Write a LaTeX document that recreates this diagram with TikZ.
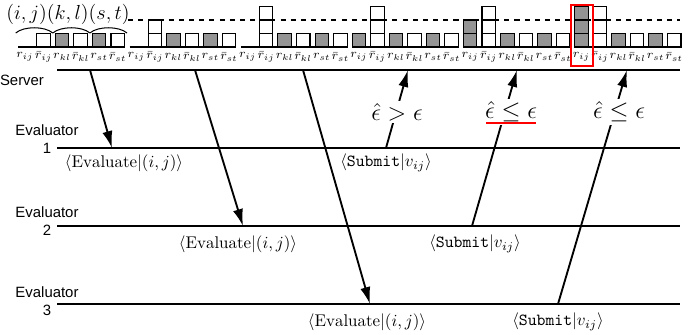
\documentclass[tikz,border=0pt]{standalone}
\usepackage{fontspec}
\setsansfont{Liberation Sans}
\usetikzlibrary{arrows.meta}
\begin{document}
\begin{tikzpicture}[x=0.59pt, y=-0.59pt,
    every node/.style={inner sep=1pt},
    timeline/.style={line width=1.3pt},
    msg/.style={-{Latex[length=10pt,width=6pt]}, line width=1.1pt},
    who/.style={font=\sffamily\fontsize{8.8}{10.5}\selectfont, align=center},
    test/.style={fill=white, font=\Large, inner sep=1.5pt},
    slot/.style={draw, line width=0.6pt, fill=white},
    hit/.style={slot, fill=black!42},
    tick/.style={font=\scriptsize}]

    \useasboundingbox (0,0) rectangle (698,335);

    % Pair counters above the server line
    \node (pairs) [font=\large] at (68,14) {$(i,j)(k,l)(s,t)$};
    \foreach \k in {0,1,2}
        \draw[line width=0.6pt] ({15.7+37.1*\k},33) .. controls +(8,-7) and +(-8,-7) .. ({52.8+37.1*\k},33);
    \draw[dashed, line width=0.6pt] (128,20) -- (680,20);

    % One group of six counters per step
    \foreach \g/\na/\nb in {0/0/1, 1/0/2, 2/0/3, 3/1/3, 4/2/3, 5/3/3} {
        \pgfmathsetmacro{\xo}{25+111.3*\g}
        \draw[line width=0.6pt] ({\xo-6.75},47) -- ({\xo+99.5},47);
        \foreach \k in {1,2,3} {
            \ifnum\k>\na\else \draw[hit] ({\xo-6.75},{47-13.5*(\k-1)}) rectangle ++(13.5,-13.5); \fi
            \ifnum\k>\nb\else \draw[slot] ({\xo+11.8},{47-13.5*(\k-1)}) rectangle ++(13.5,-13.5); \fi
        }
        \foreach \s/\f in {2/hit, 3/slot, 4/hit, 5/slot}
            \draw[\f] ({\xo+18.55*\s-6.75},47) rectangle ++(13.5,-13.5);
        \foreach \s/\t in {0/r_{ij}, 1/\bar r_{ij}, 2/r_{kl}, 3/\bar r_{kl}, 4/r_{st}, 5/\bar r_{st}}
            \node (lab-\g-\s) [tick] at ({\xo+18.55*\s},57) {$\t$};
    }
    \draw[red, line width=1.2pt] (571,5) rectangle (593,66);

    % Time lines
    \node (srv) [who] at (22,80) {Server};
    \node (ev1) [who] at (47,139) {Evaluator\\1};
    \node (ev2) [who] at (47,221) {Evaluator\\2};
    \node (ev3) [who] at (47,301) {Evaluator\\3};
    \draw[timeline] (57,70) -- (680,70);
    \draw[timeline] (57,148) -- (680,148);
    \draw[timeline] (57,226) -- (680,226);
    \draw[timeline] (57,304) -- (680,304);

    % Requests from the server
    \coordinate (s1) at (90,70);   \coordinate (e1) at (112,148);
    \coordinate (s2) at (195,70);  \coordinate (e2) at (243,226);
    \coordinate (s3) at (303,70);  \coordinate (e3) at (370,304);
    \draw[msg] (s1) -- (e1);
    \draw[msg] (s2) -- (e2);
    \draw[msg] (s3) -- (e3);
    \node (req1) at (124,163) {$\langle\mathrm{Evaluate}|(i,j)\rangle$};
    \node (req2) at (238,244) {$\langle\mathrm{Evaluate}|(i,j)\rangle$};
    \node (req3) at (367,322) {$\langle\mathrm{Evaluate}|(i,j)\rangle$};

    % Results sent back
    \coordinate (f1) at (386,148); \coordinate (t1) at (408,70);
    \coordinate (f2) at (472,226); \coordinate (t2) at (517,70);
    \coordinate (f3) at (558,304); \coordinate (t3) at (627,70);
    \draw[msg] (f1) -- (t1);
    \draw[msg] (f2) -- (t2);
    \draw[msg] (f3) -- (t3);
    \node (sub1) at (386,163) {$\langle\texttt{Submit}|v_{ij}\rangle$};
    \node (sub2) at (475,244) {$\langle\texttt{Submit}|v_{ij}\rangle$};
    \node (sub3) at (558,322) {$\langle\texttt{Submit}|v_{ij}\rangle$};

    % Error checks
    \node (chk1) [test] at (397,112) {$\hat{\epsilon} > \epsilon$};
    \node (chk2) [test] at (511,112) {$\hat{\epsilon} \leq \epsilon$};
    \node (chk3) [test] at (619,112) {$\hat{\epsilon} \leq \epsilon$};
    \draw[red, line width=1pt] (486,123) -- (536,123);

\end{tikzpicture}
\end{document}
